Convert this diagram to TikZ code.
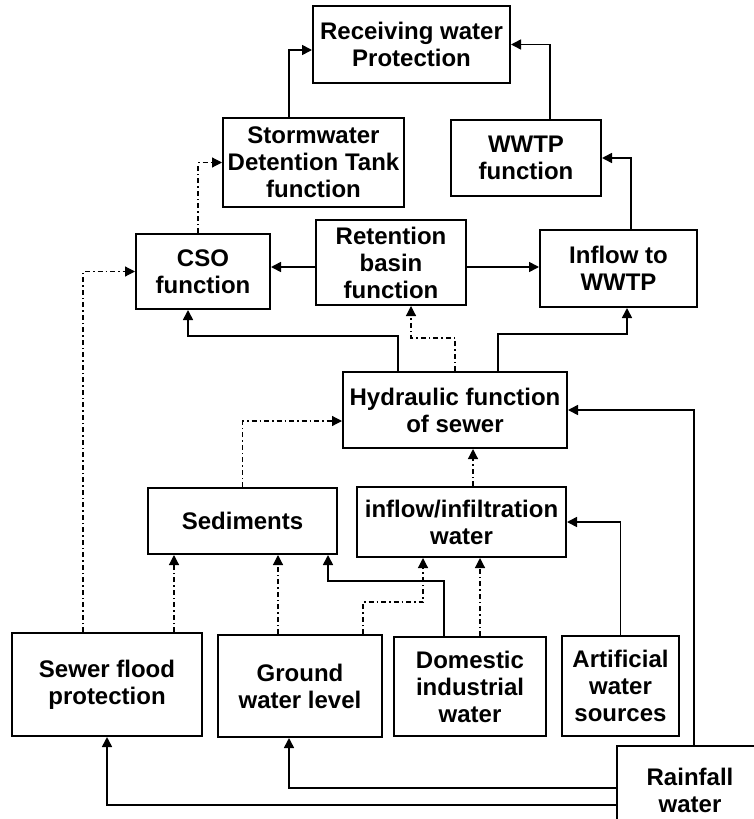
\documentclass[tikz,border=0pt]{standalone}
\usepackage{fontspec}
\setmainfont{Liberation Sans}
\usetikzlibrary{arrows.meta}

\begin{document}
\begin{tikzpicture}[x=1pt, y=-1pt,
  box/.style={draw, line width=2pt, align=center, inner sep=2pt,
    font=\bfseries\fontsize{24}{27}\selectfont},
  flow/.style={line width=1.6pt, -{Triangle[length=10pt,width=10pt]}},
  faint/.style={flow, line width=1.2pt, dash pattern=on 5pt off 3pt on 1.5pt off 3pt}]
\useasboundingbox (0,0) rectangle (753,819);
\node (recv) [box, minimum width=197pt, minimum height=77pt] at (411.5,44.5) {Receiving water\\Protection};
\node (storm) [box, minimum width=181pt, minimum height=89pt] at (313.5,162.5) {Stormwater\\Detention Tank\\function};
\node (wwtp) [box, minimum width=150pt, minimum height=76pt] at (526,158) {WWTP\\function};
\node (cso) [box, minimum width=134pt, minimum height=75pt] at (203,271.5) {CSO\\function};
\node (ret) [box, minimum width=150pt, minimum height=85pt] at (391,262.5) {Retention\\basin\\function};
\node (inwwtp) [box, minimum width=157pt, minimum height=77pt] at (618.5,268.5) {Inflow to\\WWTP};
\node (hyd) [box, minimum width=224pt, minimum height=76pt] at (455,410) {Hydraulic function\\of sewer};
\node (sed) [box, minimum width=189pt, minimum height=66pt] at (242.5,521) {Sediments};
\node (infil) [box, minimum width=209pt, minimum height=70pt] at (461.5,522) {inflow/infiltration\\water};
\node (flood) [box, minimum width=190pt, minimum height=103pt] at (107,684.5) {Sewer flood\\protection};
\node (ground) [box, minimum width=164pt, minimum height=102pt] at (300,686) {Ground\\water level};
\node (domestic) [box, minimum width=152pt, minimum height=99pt] at (470,686.5) {Domestic\\industrial\\water};
\node (artif) [box, minimum width=117pt, minimum height=100pt] at (620.5,686) {Artificial\\water\\sources};
\node (rain) [box, minimum width=146pt, minimum height=88pt] at (690,790) {Rainfall\\water};
\draw[flow] ([xshift=-24.5pt]storm.north) |- ([yshift=-5.5pt]recv.west);
\draw[flow] ([xshift=24pt]wwtp.north) |- (recv.east);
\draw[flow] ([xshift=12.5pt]inwwtp.north) |- (wwtp.east);
\draw[faint] ([xshift=-5pt]cso.north) |- (storm.west);
\draw[flow] ([yshift=-4.5pt]ret.west) -- ([yshift=-4.5pt]ret.west -| cso.east);
\draw[flow] ([yshift=-4.5pt]ret.east) -- ([yshift=-4.5pt]ret.east -| inwwtp.west);
\draw[flow] ([xshift=-57pt]hyd.north) -- ++(0,-35) -| ([xshift=-15pt]cso.south);
\draw[faint] (hyd.north) -- ++(0,-33) -| ([xshift=20pt]ret.south);
\draw[flow] ([xshift=43pt]hyd.north) -- ++(0,-37) -| ([xshift=8.5pt]inwwtp.south);
\draw[faint] (sed.north) |- ([yshift=-11pt]hyd.west);
\draw[faint] ([xshift=11.5pt]infil.north) -- ([xshift=11.5pt]infil.north |- hyd.south);
\draw[faint] ([xshift=-24pt]flood.north) |- (cso.west);
\draw[flow] ([xshift=4pt]rain.north) |- (hyd.east);
\draw[flow] (artif.north) |- (infil.east);
\draw[flow] ([yshift=-15pt]rain.west) -| (flood.south);
\draw[flow] ([yshift=2pt]rain.west) -| ([xshift=-11pt]ground.south);
\draw[faint] ([xshift=-22pt]ground.north) -- ([xshift=-22pt]ground.north |- sed.south);
\draw[faint] ([xshift=67pt]flood.north) -- ([xshift=67pt]flood.north |- sed.south);
\draw[flow] ([xshift=-26pt]domestic.north) -- ++(0,-55) -| ([xshift=85.5pt]sed.south);
\draw[faint] ([xshift=63pt]ground.north) -- ++(0,-32) -| ([xshift=-38.5pt]infil.south);
\draw[faint] ([xshift=10pt]domestic.north) -- ([xshift=10pt]domestic.north |- infil.south);
\end{tikzpicture}
\end{document}
